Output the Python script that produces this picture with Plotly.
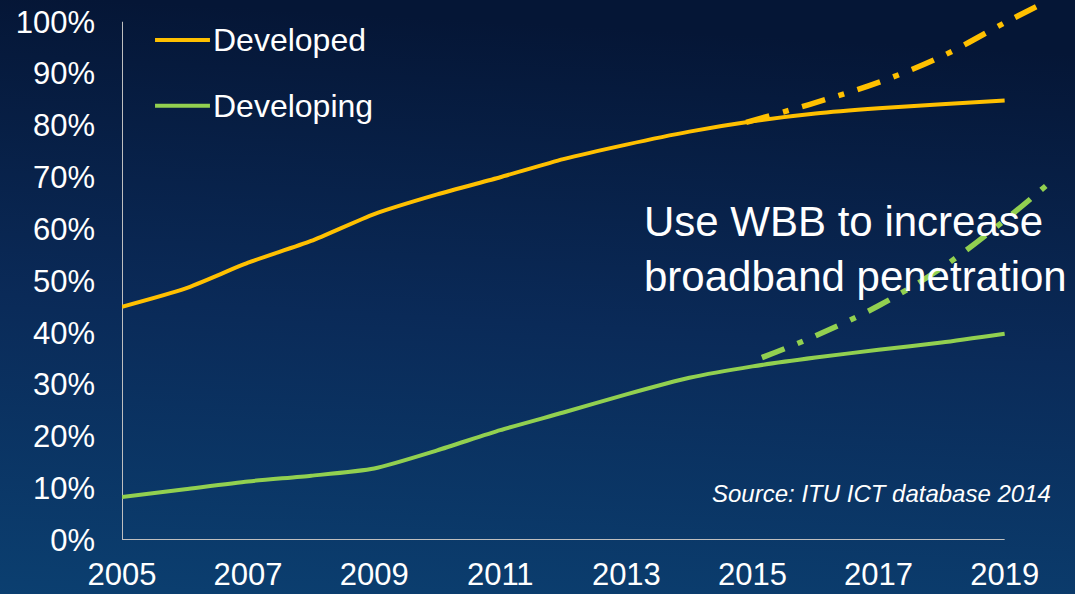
import base64
import plotly.graph_objects as go

# --- data ---
years = [2005, 2006, 2007, 2008, 2009, 2010, 2011, 2012, 2013, 2014, 2015, 2016, 2017, 2018, 2019]
developed = [45.0, 48.5, 53.5, 57.7, 62.9, 66.7, 70.0, 73.5, 76.3, 78.8, 80.8, 82.3, 83.3, 84.1, 84.8]
developing = [8.3, 9.8, 11.3, 12.4, 13.8, 17.3, 21.2, 24.6, 28.1, 31.3, 33.5, 35.2, 36.7, 38.1, 39.8]

proj_years_dev = [2014.9, 2016, 2017, 2018, 2019, 2019.5]
proj_developed = [80.6, 84.4, 88.3, 93.3, 99.8, 102.9]
proj_years_dvg = [2015.15, 2016, 2017, 2018, 2019, 2019.7]
proj_developing = [35.2, 39.4, 45.2, 52.5, 61.7, 68.8]

x_ticks = [2005, 2007, 2009, 2011, 2013, 2015, 2017, 2019]
y_ticks = [0, 10, 20, 30, 40, 50, 60, 70, 80, 90, 100]
y_labels = [f"{v}%" for v in y_ticks]

YELLOW = "#FFC000"
GREEN = "#92D050"
AXIS = "#BFBFBF"
FONT = "Arial, Liberation Sans, sans-serif"

# gradient backdrop as an inline svg image
svg = (
    '<svg xmlns="http://www.w3.org/2000/svg" width="1075" height="594" preserveAspectRatio="none">'
    '<defs><linearGradient id="g" x1="0.1" y1="0" x2="0" y2="1">'
    '<stop offset="0" stop-color="#051636"/>'
    '<stop offset="0.5" stop-color="#0a2a58"/>'
    '<stop offset="1" stop-color="#0b3f70"/>'
    '</linearGradient></defs>'
    '<rect width="1075" height="594" fill="url(#g)"/></svg>'
)
bg_src = "data:image/svg+xml;base64," + base64.b64encode(svg.encode()).decode()

fig = go.Figure()
fig.add_trace(go.Scatter(
    x=years, y=developed, mode="lines", name="Developed",
    line=dict(color=YELLOW, width=4, shape="spline", smoothing=0.6),
))
fig.add_trace(go.Scatter(
    x=years, y=developing, mode="lines", name="Developing",
    line=dict(color=GREEN, width=4, shape="spline", smoothing=0.6),
))
# projections (dash-dot)
fig.add_trace(go.Scatter(
    x=proj_years_dev, y=proj_developed, mode="lines",
    line=dict(color=YELLOW, width=5.5, dash="24px,14px,6px,14px", shape="spline"),
))
fig.add_trace(go.Scatter(
    x=proj_years_dvg, y=proj_developing, mode="lines",
    line=dict(color=GREEN, width=5.5, dash="24px,14px,6px,14px", shape="spline"),
))

# axis lines (only up to 100% / 2019)
fig.add_shape(type="line", xref="x", yref="y", x0=2005, x1=2005, y0=0, y1=100,
              line=dict(color=AXIS, width=2), layer="below")
fig.add_shape(type="line", xref="x", yref="y", x0=2005, x1=2019, y0=0, y1=0,
              line=dict(color=AXIS, width=2), layer="below")

# hand-made legend
for yp, col, txt in [(0.926, YELLOW, "Developed"), (0.804, GREEN, "Developing")]:
    fig.add_shape(type="line", xref="paper", yref="paper", x0=0.0347, x1=0.0924, y0=yp, y1=yp,
                  line=dict(color=col, width=4))
    fig.add_annotation(xref="paper", yref="paper", x=0.0935, y=yp, text=txt, showarrow=False,
                       xanchor="left", yanchor="middle", font=dict(size=32, color="white", family=FONT))

fig.add_annotation(xref="paper", yref="paper", x=0.546, y=0.538,
                   text="Use WBB to increase<br>broadband penetration", showarrow=False,
                   xanchor="left", yanchor="middle", align="left",
                   font=dict(size=42, color="white", family=FONT))
fig.add_annotation(xref="paper", yref="paper", x=0.978, y=0.087,
                   text="<i>Source: ITU ICT database 2014</i>", showarrow=False,
                   xanchor="right", yanchor="middle",
                   font=dict(size=24, color="white", family=FONT))

fig.update_layout(
    width=1075, height=594,
    margin=dict(l=122, r=1, t=0, b=54),
    paper_bgcolor="#0a2a58",
    plot_bgcolor="rgba(0,0,0,0)",
    showlegend=False,
    font=dict(family=FONT, color="white"),
    images=[dict(source=bg_src, xref="paper", yref="paper", x=-0.1282, y=1.0,
                 sizex=1.1292, sizey=1.1, sizing="stretch", xanchor="left", yanchor="top",
                 layer="below")],
    xaxis=dict(range=[2005, 2020.1], tickvals=x_ticks, showgrid=False, zeroline=False,
               showline=False, ticks="", ticklabelstandoff=13, automargin=False,
               tickfont=dict(size=31, color="white")),
    yaxis=dict(range=[0, 104.2], tickvals=y_ticks, ticktext=y_labels, showgrid=False,
               zeroline=False, showline=False, ticks="", ticklabelstandoff=26,
               automargin=False, tickfont=dict(size=31, color="white")),
)

fig.write_html("out.html", config={"displayModeBar": False},
               post_script="document.body.style.margin='0';")
